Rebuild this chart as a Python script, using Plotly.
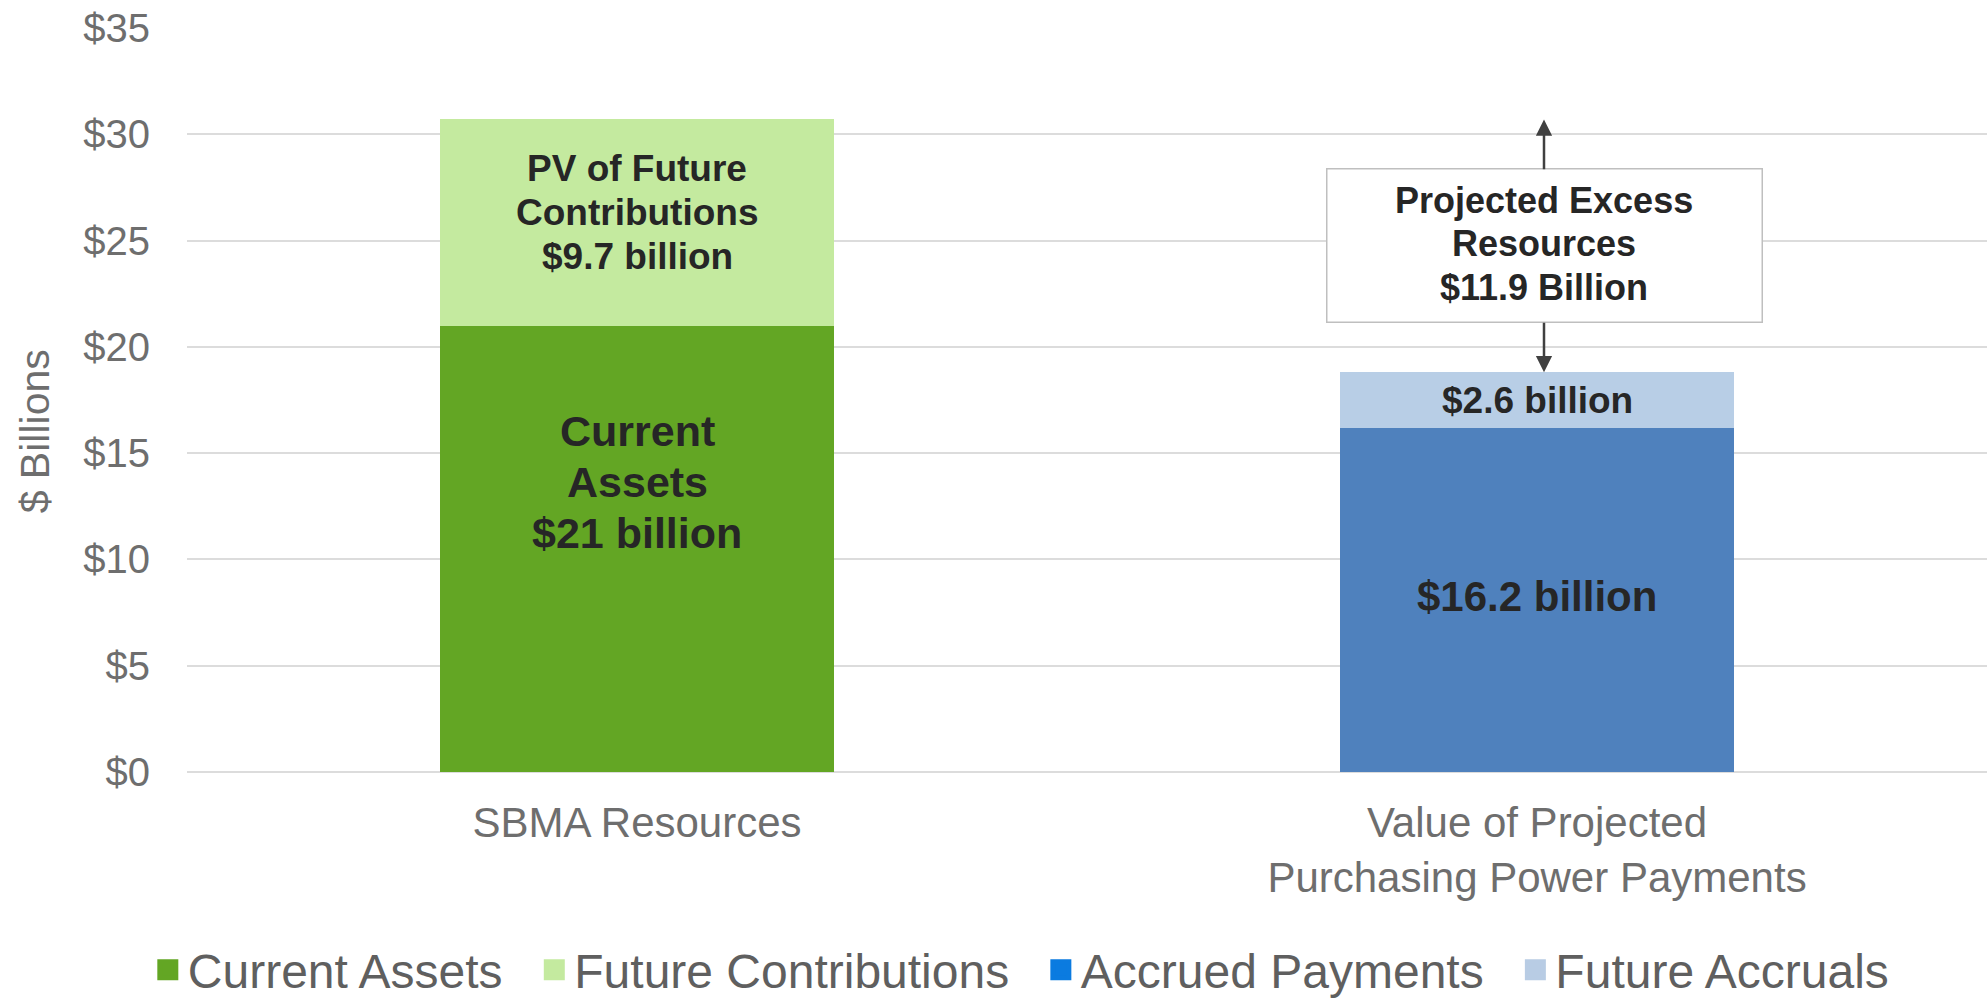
import plotly.graph_objects as go

# ---------------- data ----------------
categories = ["SBMA Resources", "Value of Projected<br>Purchasing Power Payments"]
series_names = ["Current Assets", "Future Contributions", "Accrued Payments", "Future Accruals"]
current_assets = [21.0, None]
future_contributions = [9.7, None]
accrued_payments = [None, 16.2]
future_accruals = [None, 2.6]
y_ticks = [0, 5, 10, 15, 20, 25, 30, 35]
y_tick_labels = ["$0", "$5", "$10", "$15", "$20", "$25", "$30", "$35"]

segment_labels = {
    "Current Assets": ["Current", "Assets", "$21 billion"],
    "Future Contributions": ["PV of Future", "Contributions", "$9.7 billion"],
    "Accrued Payments": ["$16.2 billion"],
    "Future Accruals": ["$2.6 billion"],
}
excess_lines = ["Projected Excess", "Resources", "$11.9 Billion"]

# ---------------- style ----------------
FONT = "Arial, 'Liberation Sans', sans-serif"
bar_colors = {
    "Current Assets": "#63A624",
    "Future Contributions": "#C4EA9F",
    "Accrued Payments": "#4F81BD",
    "Future Accruals": "#B8CEE6",
}
legend_colors = {
    "Current Assets": "#63A624",
    "Future Contributions": "#C4EA9F",
    "Accrued Payments": "#0B7BE0",
    "Future Accruals": "#B8CCE4",
}
label_font_size = {"Current Assets": 43, "Future Contributions": 37,
                   "Accrued Payments": 42, "Future Accruals": 37}
label_line_px = {"Current Assets": 51, "Future Contributions": 44,
                 "Accrued Payments": 50, "Future Accruals": 44}
label_frac = {"Current Assets": 0.65, "Future Contributions": 0.55,
              "Accrued Payments": 0.51, "Future Accruals": 0.5}
box_font_size = 36
box_line_px = 43.5
legend_gap = "\u00a0\u00a0"

series_values = {
    "Current Assets": current_assets,
    "Future Contributions": future_contributions,
    "Accrued Payments": accrued_payments,
    "Future Accruals": future_accruals,
}

fig = go.Figure()
for name in series_names:
    fig.add_trace(go.Bar(
        x=categories, y=series_values[name], name=name,
        marker=dict(color=bar_colors[name], line=dict(width=0)),
        showlegend=False, hoverinfo="skip",
    ))

# legend-only entries (legend swatch colours differ slightly from the bars)
for j, name in enumerate(series_names):
    fig.add_trace(go.Scatter(
        x=[None], y=[None], mode="markers",
        name=name + (legend_gap if j < len(series_names) - 1 else ""),
        marker=dict(symbol="square", size=16, color=legend_colors[name],
                    line=dict(width=5, color=legend_colors[name])),
        showlegend=True,
    ))

# segment labels, positioned from the stacked data
bases = [0.0 for _ in categories]
annotations = []
for name in series_names:
    vals = series_values[name]
    lines = segment_labels[name]
    n = len(lines)
    for i, v in enumerate(vals):
        if v is None:
            continue
        for k, line in enumerate(lines):
            annotations.append(dict(
                x=i, y=bases[i] + v * label_frac[name], xref="x", yref="y",
                yshift=((n - 1) / 2 - k) * label_line_px[name],
                text=line, showarrow=False,
                font=dict(family=FONT, size=label_font_size[name], color="#262626", weight="bold"),
                align="center", xanchor="center", yanchor="middle",
            ))
        bases[i] += v

total_left = bases[0]
total_right = bases[1]
mid = (total_left + total_right) / 2
XSHIFT = 7

# box + arrows (box has fixed size; its text lines are drawn separately below)
box_common = dict(
    xref="x", yref="y", axref="x", ayref="y",
    x=1, ax=1, ay=mid, text=" ", showarrow=True,
    arrowhead=2, arrowsize=1.3, arrowwidth=2.5, arrowcolor="#404040",
    width=422, height=140, borderpad=6, align="center", valign="middle",
    xshift=XSHIFT,
    font=dict(family=FONT, size=box_font_size, color="rgba(0,0,0,0)"),
)
annotations.append(dict(
    box_common, y=total_left,
    bgcolor="white", bordercolor="#BFBFBF", borderwidth=1.5,
))
annotations.append(dict(
    box_common, y=total_right,
    bgcolor="rgba(0,0,0,0)", bordercolor="rgba(0,0,0,0)", borderwidth=1.5,
))
n = len(excess_lines)
for k, line in enumerate(excess_lines):
    annotations.append(dict(
        x=1, y=mid, xref="x", yref="y", xshift=XSHIFT,
        yshift=((n - 1) / 2 - k) * box_line_px + 2,
        text=line, showarrow=False,
        font=dict(family=FONT, size=box_font_size, color="#262626", weight="bold"),
        xanchor="center", yanchor="middle",
    ))

# y-axis title
annotations.append(dict(
    xref="paper", yref="paper", x=-0.0844, y=0.458, text="$ Billions",
    textangle=-90, showarrow=False, xanchor="center", yanchor="middle",
    font=dict(family=FONT, size=41, color="#6E6E6E"),
))

fig.update_layout(
    width=1987, height=1001,
    margin=dict(l=187, r=0, t=28, b=229),
    paper_bgcolor="white", plot_bgcolor="white",
    barmode="stack", bargap=0.563,
    font=dict(family=FONT, color="#6E6E6E"),
    annotations=annotations,
    legend=dict(
        orientation="h", traceorder="normal",
        xref="container", yref="container",
        x=0.514, xanchor="center", y=0.031, yanchor="middle",
        font=dict(family=FONT, size=48, color="#5F5F5F"),
        itemsizing="trace", bgcolor="rgba(0,0,0,0)",
    ),
    xaxis=dict(
        type="category", showgrid=False, showline=False, ticks="",
        tickfont=dict(family=FONT, size=42, color="#6E6E6E"),
        ticklabelstandoff=22, fixedrange=True, automargin=False,
    ),
    yaxis=dict(
        range=[0, 35], tickvals=y_ticks, ticktext=y_tick_labels,
        showgrid=True, gridcolor="#DCDCDC", gridwidth=2,
        zeroline=True, zerolinecolor="#DCDCDC", zerolinewidth=2,
        showline=False, ticks="",
        tickfont=dict(family=FONT, size=40, color="#6E6E6E"),
        ticklabelstandoff=36, fixedrange=True, automargin=False,
    ),
)

fig.write_html("out.html")
